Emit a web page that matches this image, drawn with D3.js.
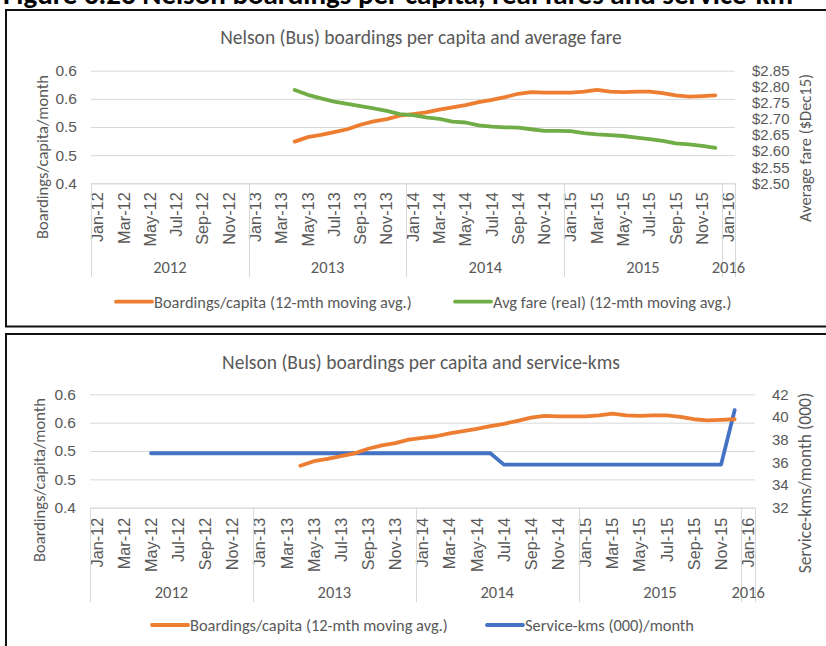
<!DOCTYPE html>
<html>
<head>
<meta charset="utf-8">
<script src="https://cdn.jsdelivr.net/npm/d3@7"></script>
<style>
  html, body { margin: 0; padding: 0; background: #fff; }
  svg { display: block; font-family: Carlito, Lato, sans-serif; }
</style>
</head>
<body>
<svg id="fig" width="826" height="646"></svg>
<script>
// ---- categories ----
const years = ["2012", "2013", "2014", "2015", "2016"];
const monthNames = ["Jan", "Feb", "Mar", "Apr", "May", "Jun", "Jul", "Aug", "Sep", "Oct", "Nov", "Dec"];
const months = [];
years.forEach(y => monthNames.forEach(m => months.push(m + "-" + y.slice(2))));
months.splice(49); // Jan-12 .. Jan-16

// ---- series ----
const boardingsStart = "Apr-13";
const boardings = [
  0.474, 0.482, 0.486, 0.491, 0.496, 0.504, 0.510, 0.514, 0.520,
  0.523, 0.526, 0.531, 0.535, 0.539, 0.544, 0.548, 0.553, 0.559, 0.562, 0.561, 0.561,
  0.561, 0.563, 0.566, 0.563, 0.562, 0.563, 0.563, 0.560, 0.556, 0.554, 0.555, 0.556
];
const fareStart = "Apr-13";
const fare = [
  2.790, 2.775, 2.764, 2.754, 2.747, 2.740, 2.733, 2.725, 2.715,
  2.712, 2.705, 2.700, 2.692, 2.689, 2.680, 2.676, 2.674, 2.673, 2.668, 2.663, 2.663,
  2.662, 2.656, 2.652, 2.650, 2.647, 2.642, 2.637, 2.632, 2.624, 2.621, 2.616, 2.610
];
const serviceStart = "May-12";
const serviceKms = [
  36.8, 36.8, 36.8, 36.8, 36.8, 36.8, 36.8, 36.8,
  36.8, 36.8, 36.8, 36.8, 36.8, 36.8, 36.8, 36.8, 36.8, 36.8, 36.8, 36.8,
  36.8, 36.8, 36.8, 36.8, 36.8, 36.8, 35.8, 35.8, 35.8, 35.8, 35.8, 35.8,
  35.8, 35.8, 35.8, 35.8, 35.8, 35.8, 35.8, 35.8, 35.8, 35.8, 35.8, 40.6
];

// ---- tick labels ----
const boardTickValues = [0.4, 0.45, 0.5, 0.55, 0.6];
const boardTickLabels = ["0.4", "0.5", "0.5", "0.6", "0.6"];
const fareTickValues = [2.50, 2.55, 2.60, 2.65, 2.70, 2.75, 2.80, 2.85];
const fareTickLabels = ["$2.50", "$2.55", "$2.60", "$2.65", "$2.70", "$2.75", "$2.80", "$2.85"];
const kmsTickValues = [32, 34, 36, 38, 40, 42];
const kmsTickLabels = ["32", "34", "36", "38", "40", "42"];

const figureTitle = "Figure 3.23 Nelson boardings per capita, real fares and service-km";

const COL = { orange: "#ED7D31", green: "#70AD47", blue: "#4472C4", text: "#595959", grid: "#D9D9D9" };

const svg = d3.select("#fig");
svg.append("rect").attr("width", 826).attr("height", 646).attr("fill", "#fff");

// figure heading (runs off the top edge)
svg.append("text")
  .attr("x", 3).attr("y", 4)
  .attr("font-size", 29).attr("font-weight", "bold").attr("fill", "#000")
  .text(figureTitle);

function toSeries(start, values) {
  const i0 = months.indexOf(start);
  return values.map((v, i) => ({ m: months[i0 + i], v }));
}

function drawChart(cfg) {
  const g = svg.append("g");
  // panel frame
  g.append("rect")
    .attr("x", cfg.frame[0]).attr("y", cfg.frame[1])
    .attr("width", cfg.frame[2]).attr("height", cfg.frame[3])
    .attr("fill", "#fff").attr("stroke", "#111").attr("stroke-width", 2);

  const x = d3.scaleBand().domain(months).range([cfg.x0, cfg.x1]).padding(0);
  const bw = x.bandwidth();
  const cx = m => x(m) + bw / 2;
  const yL = d3.scaleLinear().domain([0.4, 0.6]).range([cfg.yBot, cfg.yTop]);
  const yR = d3.scaleLinear().domain(cfg.rightDomain).range([cfg.yBot, cfg.yTop]);

  // title
  g.append("text")
    .attr("x", cfg.titleX).attr("y", cfg.titleY)
    .attr("text-anchor", "middle").attr("dominant-baseline", "central")
    .attr("font-size", 19.5).attr("fill", COL.text)
    .text(cfg.title);

  // horizontal gridlines
  const grid = g.append("g").attr("transform", `translate(${cfg.x0},0)`)
    .call(d3.axisLeft(yL).tickValues(boardTickValues).tickSize(-(cfg.x1 - cfg.x0)).tickFormat(""));
  grid.select(".domain").remove();
  grid.selectAll("line").attr("stroke", COL.grid).attr("stroke-width", 1);

  // left axis labels
  const la = g.append("g").attr("transform", `translate(${cfg.leftLabelX},0)`)
    .call(d3.axisLeft(yL).tickValues(boardTickValues).tickSize(0).tickPadding(0)
      .tickFormat((d, i) => boardTickLabels[i]));
  la.select(".domain").remove();
  la.selectAll("text").attr("font-size", 15.5).attr("fill", COL.text).attr("font-family", null);

  // right axis labels
  const ra = g.append("g").attr("transform", `translate(${cfg.rightLabelX},0)`)
    .call(d3.axisRight(yR).tickValues(cfg.rightTicks).tickSize(0).tickPadding(0)
      .tickFormat((d, i) => cfg.rightLabels[i]));
  ra.select(".domain").remove();
  ra.selectAll("text").attr("font-size", 15).attr("fill", COL.text).attr("font-family", null);

  // axis titles
  g.append("text")
    .attr("transform", `translate(${cfg.leftTitle[0]},${cfg.leftTitle[1]}) rotate(-90)`)
    .attr("text-anchor", "middle").attr("dominant-baseline", "central")
    .attr("font-size", 16.5).attr("fill", COL.text).text("Boardings/capita/month");
  g.append("text")
    .attr("transform", `translate(${cfg.rightTitle[0]},${cfg.rightTitle[1]}) rotate(-90)`)
    .attr("text-anchor", "middle").attr("dominant-baseline", "central")
    .attr("font-size", cfg.rightTitleSize).attr("fill", COL.text).text(cfg.rightTitleText);

  // category axis: month labels
  const ma = g.append("g").attr("transform", `translate(0,${cfg.yBot})`)
    .call(d3.axisBottom(x).tickValues(months.filter((m, i) => i % 2 === 0)).tickSize(0).tickPadding(0));
  ma.select(".domain").attr("stroke", COL.grid).attr("d", `M${cfg.x0},0.5H${cfg.x1}`);
  ma.selectAll(".tick text")
    .attr("font-size", 16.3).attr("fill", COL.text).attr("font-family", null)
    .attr("text-anchor", "end").attr("dy", "0.35em")
    .attr("transform", `translate(0,${cfg.monthPad}) rotate(-90)`)
    .attr("x", 0).attr("y", 0);

  // year group dividers and labels
  const yearEdges = years.map(y => x("Jan-" + y.slice(2)));
  yearEdges.push(cfg.x1);
  g.append("g").selectAll("line").data(yearEdges).join("line")
    .attr("x1", d => Math.round(d) + 0.5).attr("x2", d => Math.round(d) + 0.5)
    .attr("y1", cfg.yBot).attr("y2", cfg.groupBottom)
    .attr("stroke", COL.grid).attr("stroke-width", 1);
  g.append("g").selectAll("text").data(years).join("text")
    .attr("x", (d, i) => (yearEdges[i] + yearEdges[i + 1]) / 2)
    .attr("y", cfg.yearY).attr("text-anchor", "middle").attr("dominant-baseline", "central")
    .attr("font-size", 16.5).attr("fill", COL.text).text(d => d);

  // series lines
  cfg.series.forEach(s => {
    const y = s.axis === "left" ? yL : yR;
    const line = d3.line().x(d => cx(d.m)).y(d => y(d.v));
    g.append("path").datum(toSeries(s.start, s.values))
      .attr("d", line).attr("fill", "none").attr("stroke", s.color)
      .attr("stroke-width", 3.8).attr("stroke-linejoin", "round").attr("stroke-linecap", "round");
  });

  // legend
  cfg.series.forEach(s => {
    const lg = g.append("g");
    lg.append("line").attr("x1", s.legendX).attr("x2", s.legendX + 36)
      .attr("y1", cfg.legendY).attr("y2", cfg.legendY)
      .attr("stroke", s.color).attr("stroke-width", 3.8).attr("stroke-linecap", "round");
    lg.append("text").attr("x", s.legendX + 38).attr("y", cfg.legendY)
      .attr("dominant-baseline", "central").attr("font-size", 16.4).attr("fill", COL.text)
      .text(s.name);
  });
}

drawChart({
  frame: [6, 10, 900, 316.5],
  x0: 91, x1: 735, yTop: 70.7, yBot: 183.3,
  title: "Nelson (Bus) boardings per capita and average fare", titleX: 421, titleY: 37,
  leftLabelX: 77, rightLabelX: 752,
  rightDomain: [2.50, 2.85], rightTicks: fareTickValues, rightLabels: fareTickLabels,
  leftTitle: [42, 157], rightTitle: [805, 148], rightTitleText: "Average fare ($Dec15)", rightTitleSize: 16.5,
  monthPad: 9, yearY: 267, groupBottom: 277, legendY: 301.7,
  series: [
    { name: "Boardings/capita (12-mth moving avg.)", color: COL.orange, axis: "left",
      start: boardingsStart, values: boardings, legendX: 116 },
    { name: "Avg fare (real) (12-mth moving avg.)", color: COL.green, axis: "right",
      start: fareStart, values: fare, legendX: 455 }
  ]
});

drawChart({
  frame: [6, 334, 900, 400],
  x0: 90, x1: 755, yTop: 394.3, yBot: 507.7,
  title: "Nelson (Bus) boardings per capita and service-kms", titleX: 421, titleY: 361.7,
  leftLabelX: 76, rightLabelX: 772,
  rightDomain: [32, 42], rightTicks: kmsTickValues, rightLabels: kmsTickLabels,
  leftTitle: [39, 480], rightTitle: [805, 483], rightTitleText: "Service-kms/month (000)", rightTitleSize: 17.5,
  monthPad: 10, yearY: 591.7, groupBottom: 602, legendY: 625,
  series: [
    { name: "Service-kms (000)/month", color: COL.blue, axis: "right",
      start: serviceStart, values: serviceKms, legendX: 487 },
    { name: "Boardings/capita (12-mth moving avg.)", color: COL.orange, axis: "left",
      start: boardingsStart, values: boardings, legendX: 152 }
  ]
});
</script>
</body>
</html>
